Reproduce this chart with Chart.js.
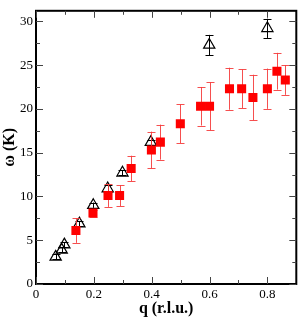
<!DOCTYPE html>
<html>
<head>
<meta charset="utf-8">
<script src="https://cdn.jsdelivr.net/npm/chart.js@4.4.1/dist/chart.umd.min.js"></script>
<style>
html,body{margin:0;padding:0;background:#fff;}
#wrap{width:304px;height:318px;position:relative;}
</style>
</head>
<body>
<div id="wrap"><canvas id="c" width="304" height="318"></canvas></div>
<script>
// Red squares: q, omega, error
const sqQ   = [0.138, 0.197, 0.249, 0.289, 0.329, 0.399, 0.430, 0.499, 0.569, 0.600, 0.669, 0.711, 0.750, 0.800, 0.833, 0.862];
const sqW   = [6.1, 8.1, 10.1, 10.1, 13.2, 15.3, 16.2, 18.3, 20.3, 20.3, 22.3, 22.3, 21.3, 22.3, 24.3, 23.3];
const sqErr = [1.4, 0.4, 1.3, 1.2, 1.45, 2.1, 2.0, 2.2, 2.2, 2.75, 2.4, 2.2, 2.6, 2.3, 2.1, 1.7];
// Black open triangles: q, omega, error
const trQ   = [0.068, 0.089, 0.098, 0.150, 0.198, 0.248, 0.299, 0.397, 0.599, 0.800];
const trW   = [3.1, 3.9, 4.5, 6.9, 9.0, 10.9, 12.7, 16.2, 27.3, 29.2];
const trErr = [0.3, 0.3, 0.3, 0.3, 0.3, 0.4, 0.3, 0.3, 1.15, 1.1];
// Axes
const xTicks = [0, 0.2, 0.4, 0.6, 0.8];
const xMinor = [0.1, 0.3, 0.5, 0.7, 0.9];
const yTicks = [0, 5, 10, 15, 20, 25, 30];
const yMinor = [2.5, 7.5, 12.5, 17.5, 22.5, 27.5];
const xRange = [0, 0.9];
const yRange = [0, 31.2];

const sqData = sqQ.map((q,i)=>({x:q, y:sqW[i], e:sqErr[i]}));
const trData = trQ.map((q,i)=>({x:q, y:trW[i], e:trErr[i]}));

const errorBars = {
  id:'errorBars',
  beforeDatasetDraw(chart, args){
    const ds = chart.data.datasets[args.index];
    const xs = chart.scales.x, ys = chart.scales.y;
    const ctx = chart.ctx;
    ctx.save();
    ctx.strokeStyle = ds.errColor;
    ctx.lineWidth = 1;
    ds.data.forEach(p=>{
      const px = Math.round(xs.getPixelForValue(p.x))+0.5;
      const top = ys.getPixelForValue(p.y + p.e);
      const bot = ys.getPixelForValue(p.y - p.e);
      ctx.beginPath();
      ctx.moveTo(px, top); ctx.lineTo(px, bot);
      ctx.moveTo(px-4, Math.round(top)+0.5); ctx.lineTo(px+4, Math.round(top)+0.5);
      ctx.moveTo(px-4, Math.round(bot)+0.5); ctx.lineTo(px+4, Math.round(bot)+0.5);
      ctx.stroke();
    });
    ctx.restore();
  }
};

const frameTicks = {
  id:'frameTicks',
  afterDraw(chart){
    const {ctx, chartArea:a} = chart;
    const xs = chart.scales.x, ys = chart.scales.y;
    ctx.save();
    ctx.strokeStyle = '#000';
    ctx.lineWidth = 2;
    ctx.strokeRect(a.left, a.top, a.right - a.left, a.bottom - a.top);
    ctx.lineWidth = 1;
    ctx.strokeStyle = '#444';
    const major = 7, minor = 4;
    ctx.beginPath();
    const vt = (v, len)=>{
      const px = Math.round(xs.getPixelForValue(v))+0.5;
      ctx.moveTo(px, a.bottom); ctx.lineTo(px, a.bottom - len);
      ctx.moveTo(px, a.top); ctx.lineTo(px, a.top + len);
    };
    const ht = (v, len)=>{
      const py = Math.round(ys.getPixelForValue(v))+0.5;
      ctx.moveTo(a.left, py); ctx.lineTo(a.left + len, py);
      ctx.moveTo(a.right, py); ctx.lineTo(a.right - len, py);
    };
    xTicks.forEach(v=>vt(v, major));
    xMinor.forEach(v=>{ if (v < xRange[1]) vt(v, minor); });
    yTicks.forEach(v=>ht(v, major));
    yMinor.forEach(v=>ht(v, minor));
    ctx.stroke();
    ctx.restore();
  }
};

const font = "'Liberation Serif', 'Times New Roman', serif";

new Chart(document.getElementById('c'), {
  type:'scatter',
  data:{
    datasets:[
      {
        label:'squares',
        data:sqData,
        order:1,
        errColor:'rgba(245,60,60,0.9)',
        pointStyle:'rect',
        pointRadius:6.4,
        pointBackgroundColor:'#ff0000',
        pointBorderColor:'#ff0000',
        pointBorderWidth:0,
        showLine:false
      },
      {
        label:'triangles',
        data:trData,
        order:2,
        errColor:'#000',
        pointStyle:'triangle',
        pointRadius:6.5,
        pointBackgroundColor:'rgba(255,255,255,0)',
        pointBorderColor:'#000',
        pointBorderWidth:1.2,
        showLine:false
      }
    ]
  },
  options:{
    responsive:false,
    animation:false,
    devicePixelRatio:1,
    layout:{padding:{top:3, right:4, left:0, bottom:0}},
    plugins:{legend:{display:false}, tooltip:{enabled:false}},
    scales:{
      x:{
        type:'linear',
        min:xRange[0], max:xRange[1],
        grid:{display:false, drawTicks:false},
        border:{display:false},
        afterBuildTicks(s){ s.ticks = xTicks.map(v=>({value:v})); },
        afterFit(s){ s.height = 34; },
        ticks:{
          color:'#000', padding:3,
          font:{family:font, size:13},
          maxRotation:0,
          callback:v=>String(v)
        },
        title:{display:true, text:'q (r.l.u.)', color:'#000',
          font:{family:font, size:16, weight:'bold'}, padding:{top:-2, bottom:0}}
      },
      y:{
        type:'linear',
        min:yRange[0], max:yRange[1],
        grid:{display:false, drawTicks:false},
        border:{display:false},
        afterBuildTicks(s){ s.ticks = yTicks.map(v=>({value:v})); },
        afterFit(s){ s.width = 36; },
        ticks:{
          color:'#000', padding:3,
          font:{family:font, size:13},
          callback:v=>String(v)
        },
        title:{display:true, text:'ω (K)', color:'#000',
          font:{family:font, size:16, weight:'bold'}, padding:{top:0, bottom:0}}
      }
    }
  },
  plugins:[errorBars, frameTicks]
});
</script>
</body>
</html>
